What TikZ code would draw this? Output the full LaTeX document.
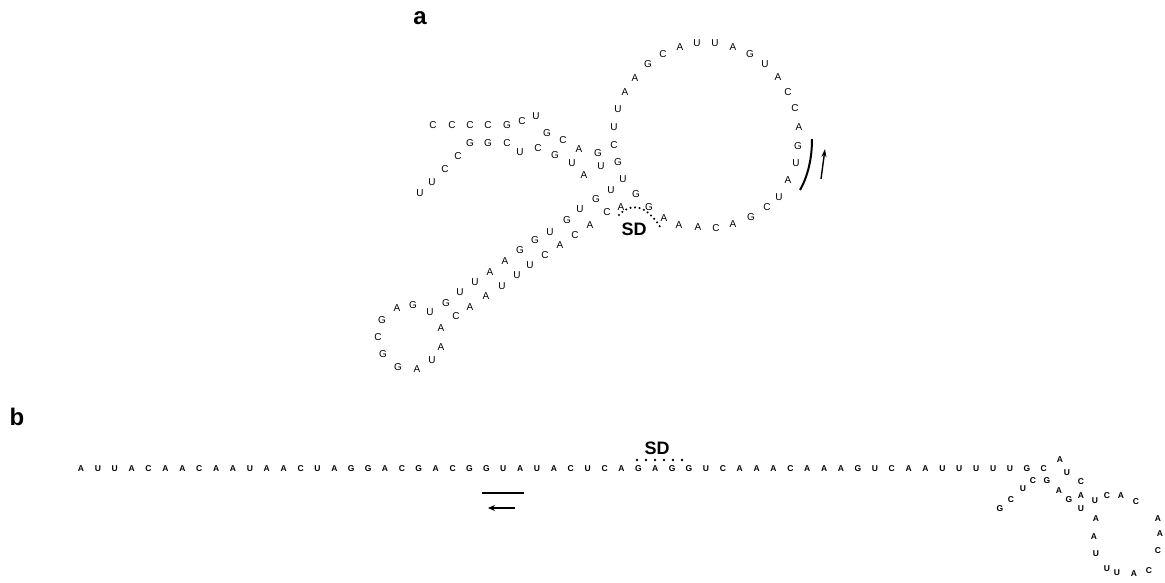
\documentclass[tikz,border=0pt]{standalone}
\usepackage{fontspec}
\setmainfont{Liberation Sans}
\usetikzlibrary{arrows.meta}
\begin{document}
\begin{tikzpicture}[x=1pt,y=-1pt,
  nt/.style={font=\fontsize{10}{11}\selectfont, inner sep=0pt},
  bt/.style={font=\bfseries\fontsize{8.5}{9}\selectfont, inner sep=0pt},
  lab/.style={font=\bfseries\fontsize{24}{26}\selectfont, inner sep=0pt},
  sdlab/.style={font=\bfseries\fontsize{18}{20}\selectfont, inner sep=0pt},
  dotsa/.style={line width=2.3pt, line cap=round, dash pattern=on 0pt off 4.6pt},
  dotsb/.style={line width=2.6pt, line cap=round, dash pattern=on 0pt off 9pt},
  thick line/.style={line width=2pt},
]
\useasboundingbox (0,0) rectangle (1165,582);

% panel labels
\node[lab] (la) at (420,18) {a};
\node[lab] (lb) at (17,417) {b};

% ---- panel a: folded RNA ----
\foreach \l/\x/\y [count=\i] in {
  C/433/125, C/452/125, C/470/125, C/488/125, G/507/125, C/522/121, U/536/116,
  G/547/133, C/563/140, A/579/149, G/598/153, C/614/145, U/614/127,
  G/470/143, G/488/143, C/507/143, U/520/152, C/538/148, G/555/155, U/572/163,
  U/601/166, G/618/162, C/458/156, A/584/175, U/623/179, C/445/169, U/611/190,
  G/636/194, U/432/182, U/580/209, G/596/199, C/607/212, A/621/207, G/649/207,
  U/420/193,
  U/460/292, U/475/282, A/490/272, A/505/261, G/520/250, G/535/240, U/550/232, G/567/220,
  A/486/296, U/502/286, U/517/275, U/530/265, C/545/255, A/560/245, C/575/235, A/590/225,
  A/470/307, C/456/316, A/441/328, A/441/347, U/432/360, A/417/369, G/398/367,
  G/383/354, C/378/337, G/382/320, A/397/308, G/413/305, U/430/312, G/446/303,
  A/664/218, A/679/225, A/698/227, C/716/228, A/733/224, G/751/217, C/767/207,
  U/779/197, A/788/180, U/796/163, G/798/146, A/799/127, C/795/108, C/788/92,
  A/778/77, U/765/64, G/750/54, A/733/47, U/715/43, U/697/43, A/680/47, C/663/54,
  G/648/64, A/635/78, A/625/92, U/618/109}
  \node[nt] (a\i) at (\x,\y) {\l};

\node[sdlab] (sda) at (634,229) {SD};
\coordinate (sda1) at (619,215);
\coordinate (sda2) at (661,228);
\draw[dotsa] (sda1) .. controls (630,203) and (645,203) .. (sda2);

% direction of the sequence in the loop
\coordinate (arc1) at (800,190);
\coordinate (arc2) at (812,139);
\draw[thick line] (arc1) .. controls (808,176) and (812,158) .. (arc2);
\coordinate (dir1) at (821,179);
\coordinate (dir2) at (825,149);
\draw[line width=1.4pt, -{Stealth[length=8pt,width=5pt]}] (dir1) -- (dir2);

% ---- panel b: linear sequence ----
\foreach \l [count=\i] in {A,U,U,A,C,A,A,C,A,A,U,A,A,C,U,A,G,G,A,C,G,A,C,G,G,U,A,U,A,C,
  U,C,A,G,A,G,G,U,C,A,A,A,C,A,A,A,G,U,C,A,A,U,U,U,U,U,G,C}
  \node[bt] (b\i) at ({81+16.89*(\i-1)},469) {\l};

\foreach \l/\x/\y [count=\i] in {
  A/1060/460, U/1067/473, C/1081/482, A/1081/496, U/1095/501, C/1107/496,
  A/1121/496, C/1136/502, A/1158/519, A/1160/534, C/1158/551, C/1149/571,
  A/1134/574, U/1117/573, U/1107/569, U/1096/554, A/1094/537, A/1096/519,
  U/1081/509, G/1069/500, A/1059/491, G/1047/481, C/1033/481, U/1023/489,
  C/1011/500, G/1000/509}
  \node[bt] (h\i) at (\x,\y) {\l};

\node[sdlab] (sdb) at (657,448) {SD};
\coordinate (sdb1) at (637,460);
\coordinate (sdb2) at (691,460);
\draw[dotsb] (sdb1) -- (sdb2);

\coordinate (ul1) at (482,493);
\coordinate (ul2) at (524,493);
\draw[thick line] (ul1) -- (ul2);
\coordinate (rv1) at (515,508);
\coordinate (rv2) at (488,508);
\draw[line width=1.8pt, -{Stealth[length=7pt,width=6pt]}] (rv1) -- (rv2);
\end{tikzpicture}
\end{document}
